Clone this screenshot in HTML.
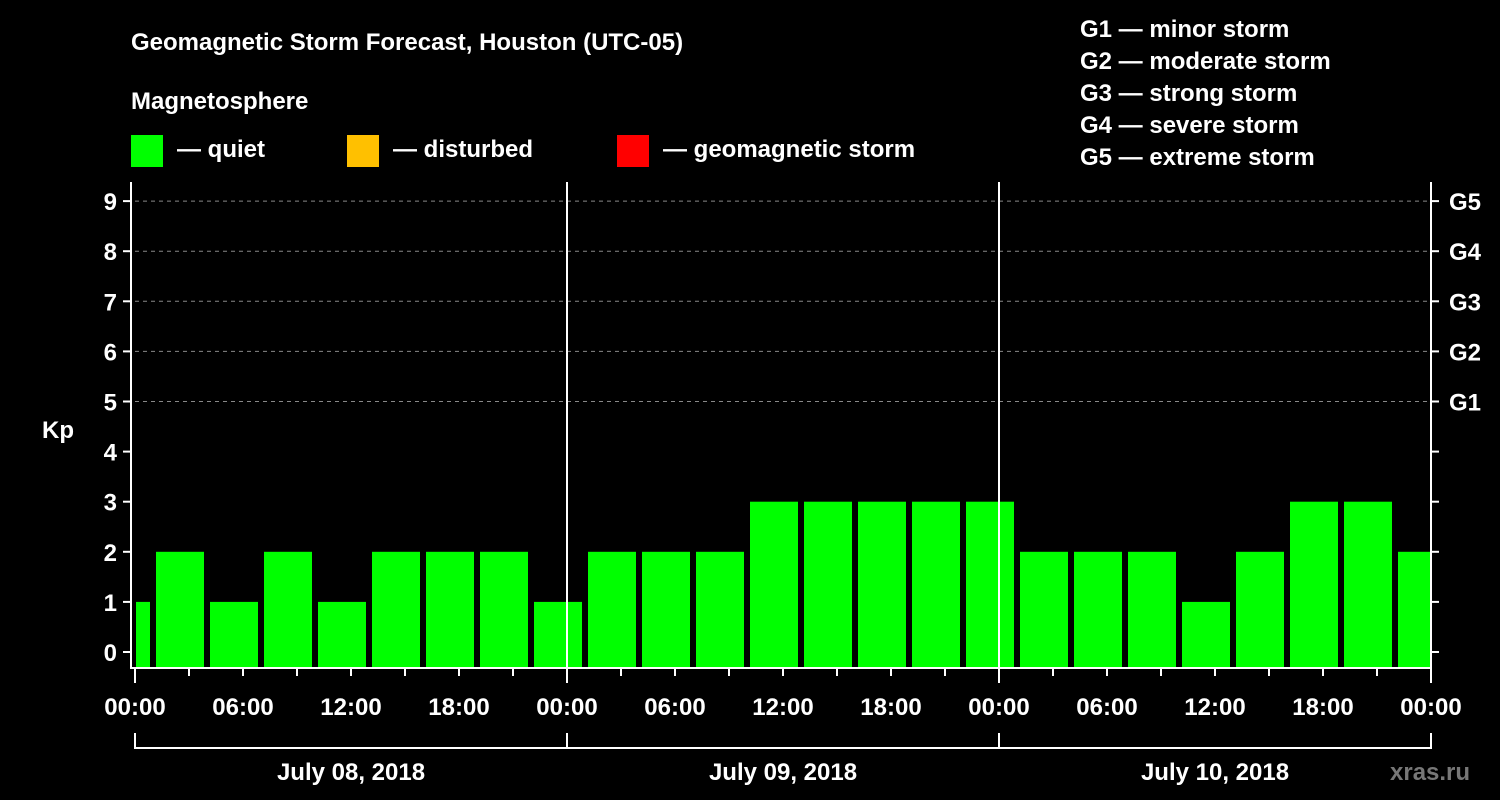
<!DOCTYPE html>
<html><head><meta charset="utf-8"><style>
html,body{margin:0;padding:0;background:#000;}
svg{display:block;font-family:"Liberation Sans",Arial,sans-serif;font-weight:bold;}
</style></head><body>
<svg id="chart" width="1500" height="800" viewBox="0 0 1500 800">
<rect width="1500" height="800" fill="#000"/>
<text x="131" y="50" fill="#fff" font-size="24">Geomagnetic Storm Forecast, Houston (UTC-05)</text>
<text x="131" y="109" fill="#fff" font-size="24">Magnetosphere</text>
<g><rect x="131" y="135" width="32" height="32" fill="#00ff00"/><text x="177" y="157" fill="#fff" font-size="24">— quiet</text></g>
<g><rect x="347" y="135" width="32" height="32" fill="#ffc000"/><text x="393" y="157" fill="#fff" font-size="24">— disturbed</text></g>
<g><rect x="617" y="135" width="32" height="32" fill="#ff0000"/><text x="663" y="157" fill="#fff" font-size="24">— geomagnetic storm</text></g>
<g fill="#fff" font-size="24">
<text x="1080" y="37">G1 — minor storm</text>
<text x="1080" y="69">G2 — moderate storm</text>
<text x="1080" y="101">G3 — strong storm</text>
<text x="1080" y="133">G4 — severe storm</text>
<text x="1080" y="165">G5 — extreme storm</text>
</g>
<text x="42" y="438" fill="#fff" font-size="24">Kp</text>
<text x="1390" y="780" fill="#777" font-size="24">xras.ru</text>
<g id="plot"></g>
</svg>
<script>
const kpValues=[1,2,1,2,1,2,2,2,1,2,2,2,3,3,3,3,3,2,2,2,1,2,3,3,2];
const intervalStartHours=[-2,1,4,7,10,13,16,19,22,25,28,31,34,37,40,43,46,49,52,55,58,61,64,67,70];
const hourTickLabels=["00:00","06:00","12:00","18:00","00:00","06:00","12:00","18:00","00:00","06:00","12:00","18:00","00:00"];
const dayLabels=["July 08, 2018","July 09, 2018","July 10, 2018"];
const yTicks=[0,1,2,3,4,5,6,7,8,9];
const gLabels=["G1","G2","G3","G4","G5"];
const gLevels=[5,6,7,8,9];

const X0=135,X1=1431,Y0=668,Ytop=182;
const xs=h=>X0+h*(X1-X0)/72;
const ys=v=>652-v*50.1;
const NS="http://www.w3.org/2000/svg";
const plot=document.getElementById('plot');
function mk(tag,attrs,parent){const e=document.createElementNS(NS,tag);for(const k in attrs)e.setAttribute(k,attrs[k]);(parent||plot).appendChild(e);return e;}

gLevels.forEach((g,i)=>{
 const l=mk('line',{x1:X0,x2:X1,y1:ys(g),y2:ys(g),stroke:'#888','stroke-dasharray':'4,4','stroke-width':1});
 
 
 const t=mk('text',{x:1449,y:ys(g)+9,fill:'#fff','font-size':24});
 t.textContent=gLabels[i];
 
 
});
kpValues.forEach((v,i)=>{
 const a=intervalStartHours[i],b=a+3;
 const x1=Math.max(xs(a)+3,X0+1),x2=Math.min(xs(b)-3,X1-1);
 const r=mk('rect',{x:x1,y:ys(v),width:x2-x1,height:667-ys(v),fill:'#00ff00'});
 
 
});
[24,48].forEach(h=>{
 const l=mk('line',{x1:xs(h),x2:xs(h),y1:Ytop,y2:Y0,stroke:'#fff','stroke-width':2});
 
 
});
const frame=mk('path',{d:`M${X0-4} ${Ytop} V${Y0} H${X1} V${Ytop}`,fill:'none',stroke:'#fff','stroke-width':2});


yTicks.forEach(v=>{
 mk('line',{x1:X0-12,x2:X0-4,y1:ys(v),y2:ys(v),stroke:'#fff','stroke-width':2});
 mk('line',{x1:X1,x2:X1+8,y1:ys(v),y2:ys(v),stroke:'#fff','stroke-width':2});
 const t=mk('text',{x:X0-18,y:ys(v)+9,fill:'#fff','font-size':24,'text-anchor':'end'});
 t.textContent=v;
 
 
});
for(let h=0;h<=72;h+=3){
 mk('line',{x1:xs(h),x2:xs(h),y1:Y0,y2:h%24==0?Y0+15:Y0+8,stroke:'#fff','stroke-width':2});
}
hourTickLabels.forEach((s,i)=>{
 const t=mk('text',{x:xs(i*6),y:715,fill:'#fff','font-size':24,'text-anchor':'middle'});
 t.textContent=s;
 
 
});
const br=mk('path',{d:`M${X0} 733 V748 H${X1} V733 M${xs(24)} 733 V748 M${xs(48)} 733 V748`,fill:'none',stroke:'#fff','stroke-width':2});


dayLabels.forEach((s,i)=>{
 const t=mk('text',{x:xs(i*24+12),y:780,fill:'#fff','font-size':24,'text-anchor':'middle'});
 t.textContent=s;
 
 
});
</script>
</body></html>
